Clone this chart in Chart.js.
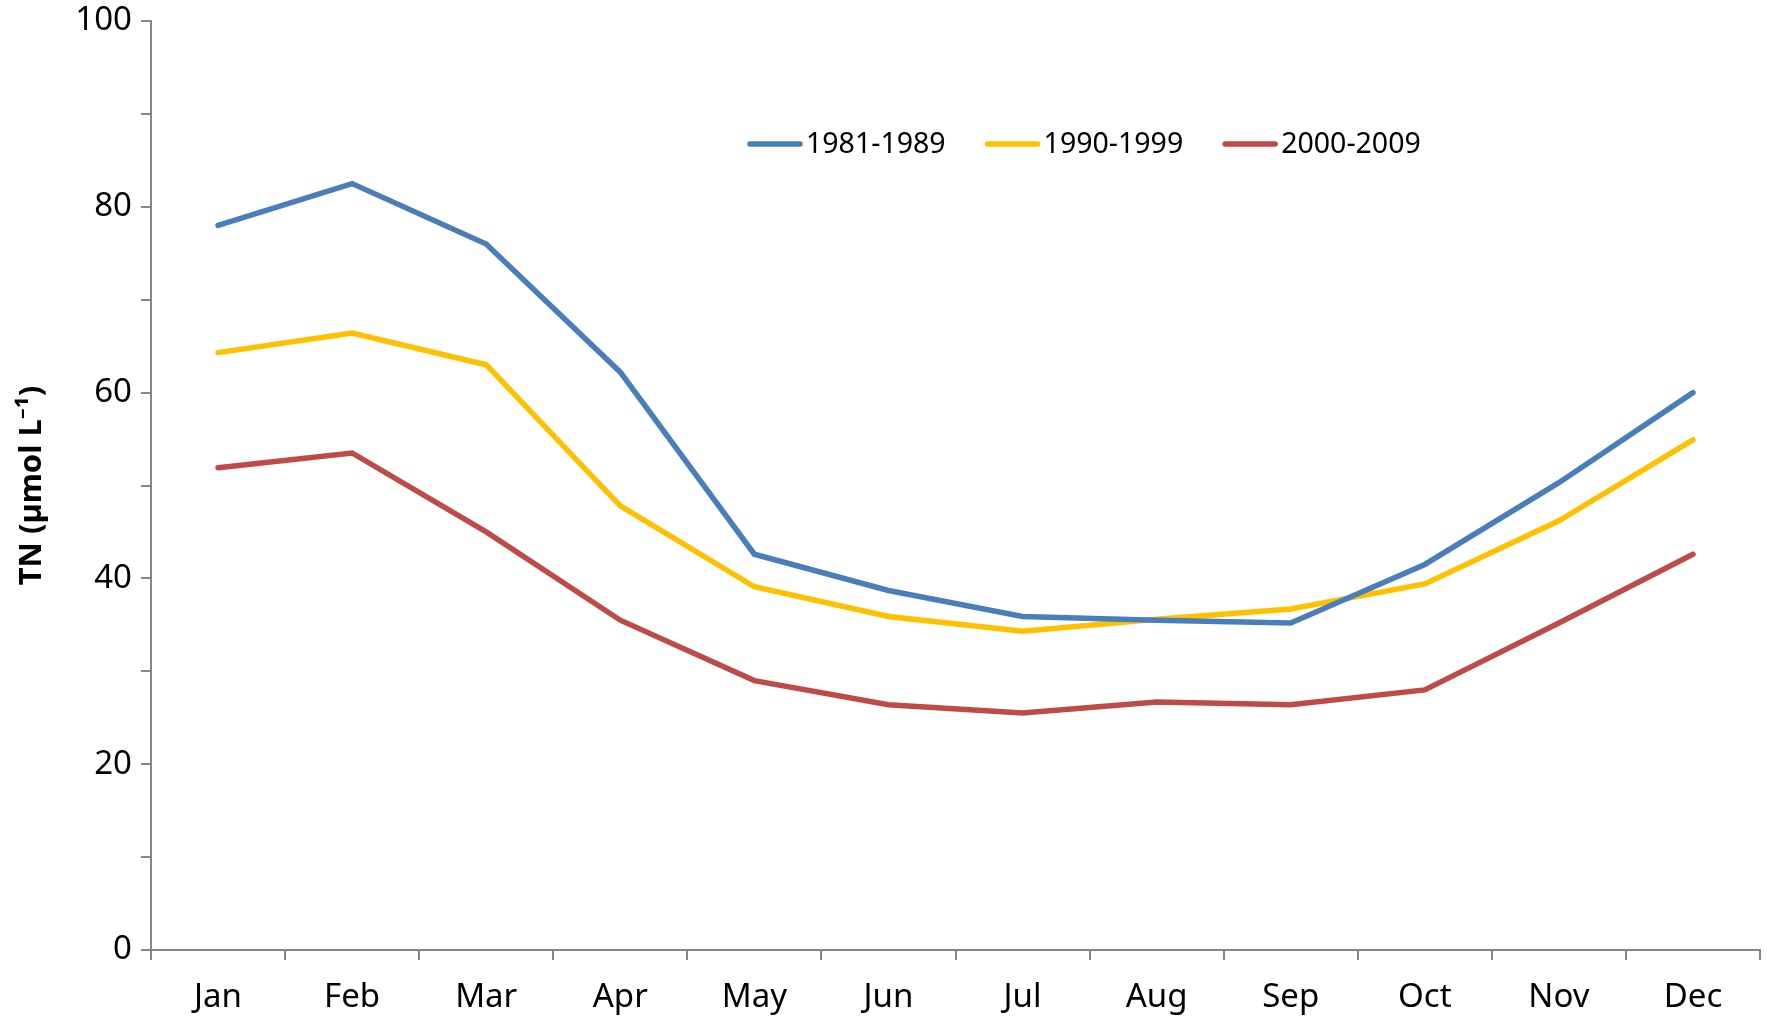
<!DOCTYPE html>
<html>
<head>
<meta charset="utf-8">
<script src="https://cdn.jsdelivr.net/npm/chart.js@4"></script>
<style>
  html, body { margin: 0; padding: 0; background: #fff; }
  #wrap { width: 1767px; height: 1021px; }
</style>
</head>
<body>
<div id="wrap"><canvas id="tnChart" width="1767" height="1021"></canvas></div>
<script>
// months on the x axis
const months = ["Jan", "Feb", "Mar", "Apr", "May", "Jun", "Jul", "Aug", "Sep", "Oct", "Nov", "Dec"];

// monthly mean TN per decade (µmol L-1)
const tn1981_1989 = [78.0, 82.5, 76.0, 62.2, 42.6, 38.7, 35.9, 35.5, 35.2, 41.5, 50.3, 60.0];
const tn1990_1999 = [64.3, 66.4, 63.0, 47.8, 39.1, 35.9, 34.3, 35.6, 36.7, 39.4, 46.2, 54.9];
const tn2000_2009 = [51.9, 53.5, 45.0, 35.5, 29.0, 26.4, 25.5, 26.7, 26.4, 28.0, 35.2, 42.6];

const yTicks = [0, 20, 40, 60, 80, 100];

const fontName = "'Noto Sans', sans-serif";
const axisGrey = "#868686";

// legend drawn inside the plot, like the original
const insideLegend = {
  id: "insideLegend",
  afterDraw(chart) {
    const ctx = chart.ctx;
    let x = 750;
    const y = 144;
    ctx.save();
    ctx.font = "28.5px " + fontName;
    ctx.textBaseline = "middle";
    ctx.lineCap = "round";
    chart.data.datasets.forEach((ds) => {
      ctx.strokeStyle = ds.borderColor;
      ctx.lineWidth = 5.5;
      ctx.beginPath();
      ctx.moveTo(x, y);
      ctx.lineTo(x + 50, y);
      ctx.stroke();
      ctx.fillStyle = "#000";
      ctx.fillText(ds.label, x + 56, y + 1);
      x += 56 + ctx.measureText(ds.label).width + 42;
    });
    ctx.restore();
  },
};

const lineStyle = { borderWidth: 5.5, pointRadius: 0, tension: 0, borderCapStyle: "round", borderJoinStyle: "miter", fill: false };

const config = {
  type: "line",
  data: {
    labels: months,
    datasets: [
      { label: "1981-1989", data: tn1981_1989, borderColor: "#4A7EBB", ...lineStyle },
      { label: "1990-1999", data: tn1990_1999, borderColor: "#FFC000", ...lineStyle },
      { label: "2000-2009", data: tn2000_2009, borderColor: "#BE4B48", ...lineStyle },
    ],
  },
  options: {
    responsive: false,
    animation: false,
    layout: { padding: { top: 21, right: 7, left: 0, bottom: 0 } },
    plugins: {
      legend: { display: false },
      tooltip: { enabled: false },
    },
    scales: {
      x: {
        offset: true,
        grid: { offset: true, drawOnChartArea: false, tickLength: 10, color: axisGrey, lineWidth: 2 },
        border: { color: axisGrey, width: 2 },
        ticks: { color: "#000", font: { family: fontName, size: 33 }, padding: 18, maxRotation: 0 },
        afterFit: (scale) => {
          scale.height = 71;
          scale.paddingLeft = 0;
          scale.paddingRight = 0;
        },
      },
      y: {
        min: 0,
        max: 100,
        ticks: {
          stepSize: 10,
          color: "#000",
          font: { family: fontName, size: 33 },
          padding: 9,
          callback: (v) => (yTicks.includes(v) ? v : ""),
        },
        grid: { drawOnChartArea: false, tickLength: 10, color: axisGrey, lineWidth: 2 },
        border: { color: axisGrey, width: 2 },
        title: {
          display: true,
          text: "TN (µmol L⁻¹)",
          color: "#000",
          font: { family: fontName, size: 31, weight: "bold" },
          padding: { top: 14, bottom: 0 },
        },
        afterFit: (scale) => {
          scale.width = 151;
          scale.paddingTop = 0;
          scale.paddingBottom = 0;
        },
      },
    },
  },
  plugins: [insideLegend],
};

const ctx = document.getElementById("tnChart").getContext("2d");
const tnChart = new Chart(ctx, config);
</script>
</body>
</html>
